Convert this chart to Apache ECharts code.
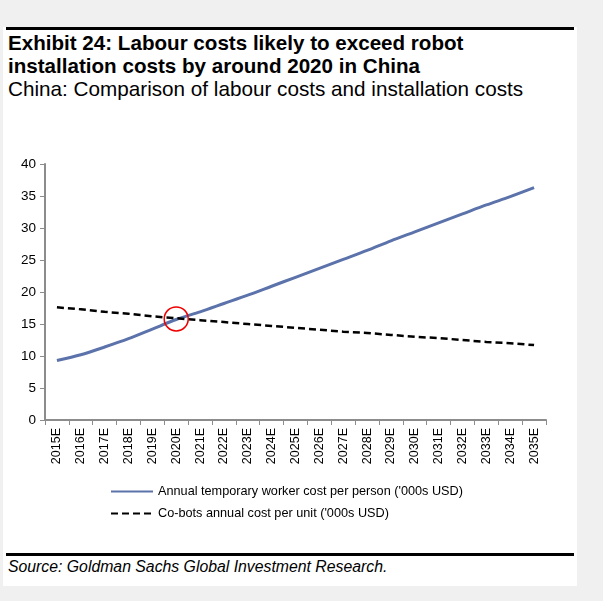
<!DOCTYPE html>
<html>
<head>
<meta charset="utf-8">
<script src="https://cdn.jsdelivr.net/npm/echarts@6/dist/echarts.min.js"></script>
<style>
  html, body { margin:0; padding:0; background:#f0f0f0; width:603px; height:601px; overflow:hidden; }
  #panel { position:absolute; left:3px; top:27px; width:574px; height:559px; background:#fff; }
  .rule { position:absolute; left:6px; width:568px; height:3px; background:#000; }
  .txt { position:absolute; left:8px; white-space:nowrap; color:#000;
         font-family:"Liberation Sans Narrow","Liberation Sans",Arial,sans-serif; }
  #t1 { top:31px; font-size:20.6px; font-weight:bold; line-height:23px; }
  #sub { top:78px; font-size:20.7px; line-height:22px; }
  #src { top:558px; font-size:15.8px; font-style:italic; line-height:18px; }
  #chart { position:absolute; left:0; top:0; width:603px; height:601px; }
</style>
</head>
<body>
<div id="panel"></div>
<div class="rule" style="top:27px"></div>
<div class="txt" id="t1">Exhibit 24: Labour costs likely to exceed robot<br>installation costs by around 2020 in China</div>
<div class="txt" id="sub">China: Comparison of labour costs and installation costs</div>
<div class="rule" style="top:553px"></div>
<div class="txt" id="src">Source: Goldman Sachs Global Investment Research.</div>
<div id="chart"></div>
<script>
const categories = ['2015E','2016E','2017E','2018E','2019E','2020E','2021E','2022E','2023E','2024E','2025E',
                    '2026E','2027E','2028E','2029E','2030E','2031E','2032E','2033E','2034E','2035E'];
const workerCost = [9.3,10.2,11.4,12.7,14.2,15.7,16.9,18.2,19.5,20.9,22.3,
                    23.7,25.1,26.5,28.0,29.4,30.8,32.2,33.6,34.9,36.3];
const cobotCost = [17.6,17.3,16.9,16.6,16.2,15.9,15.6,15.3,15.0,14.7,14.4,
                   14.1,13.8,13.6,13.3,13.0,12.8,12.5,12.2,12.0,11.7];
const yTicks = { min: 0, max: 40, interval: 5 };
const crossing = { x: '2020E', y: 15.8 };
const seriesNames = ["Annual temporary worker cost per person ('000s USD)", "Co-bots annual cost per unit ('000s USD)"];

const chart = echarts.init(document.getElementById('chart'), null, { renderer: 'canvas' });
const axisFont = 'Liberation Sans, Arial, sans-serif';
chart.setOption({
  backgroundColor: 'transparent',
  animation: false,
  grid: { left: 45, right: 57, top: 164, bottom: 181, containLabel: false },
  xAxis: {
    type: 'category',
    data: categories,
    boundaryGap: true,
    axisLine: { lineStyle: { color: '#8c8c8c', width: 2 } },
    axisTick: { show: true, length: 5, alignWithLabel: false, lineStyle: { color: '#8c8c8c', width: 1 } },
    axisLabel: { rotate: 90, interval: 0, color: '#000', fontSize: 12.5, fontFamily: axisFont, margin: 8 },
    splitLine: { show: false }
  },
  yAxis: {
    type: 'value',
    min: yTicks.min, max: yTicks.max, interval: yTicks.interval,
    axisLine: { show: true, lineStyle: { color: '#8c8c8c', width: 2 } },
    axisTick: { show: true, length: 5, lineStyle: { color: '#8c8c8c', width: 1 } },
    axisLabel: { color: '#000', fontSize: 13.5, fontFamily: axisFont, margin: 9 },
    splitLine: { show: false }
  },
  legend: {
    orient: 'vertical',
    left: 105, top: 480,
    itemWidth: 42, itemHeight: 10, itemGap: 9,
    itemStyle: { opacity: 0 },
    textStyle: { color: '#000', fontSize: 12.7, fontFamily: axisFont },
    data: seriesNames
  },
  series: [
    {
      name: seriesNames[0], type: 'line', data: workerCost, symbol: 'none', smooth: 0.3,
      lineStyle: { color: '#5b72aa', width: 3 }, itemStyle: { color: '#5b72aa' },
      markPoint: {
        symbol: 'circle', symbolSize: 24, silent: true,
        label: { show: false },
        itemStyle: { color: 'rgba(0,0,0,0)', borderColor: '#ee0000', borderWidth: 1.5 },
        data: [{ coord: [crossing.x, crossing.y] }]
      }
    },
    {
      name: seriesNames[1], type: 'line', data: cobotCost, symbol: 'none',
      lineStyle: { color: '#000', width: 2.5, type: [7, 4] }, itemStyle: { color: '#000' }
    }
  ]
});
</script>
</body>
</html>
